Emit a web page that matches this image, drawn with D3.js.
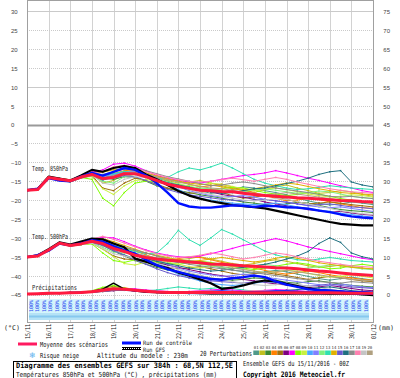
<!DOCTYPE html>
<html>
<head>
<meta charset="utf-8">
<script src="https://cdn.jsdelivr.net/npm/d3@7/dist/d3.min.js"></script>
<style>
  body { margin: 0; background: #fff; }
  svg { display: block; }
</style>
</head>
<body>
<svg id="chart" width="400" height="378"></svg>
<script>
// forecast hours (12h step) from 15/11/2016 00Z
const hours = [0,12,24,36,48,60,72,84,96,108,120,132,144,156,168,180,192,204,216,228,240,252,264,276,288,300,312,324,336,348,360,372,384];
const dayLabels = ['15/11','16/11','17/11','18/11','19/11','20/11','21/11','22/11','23/11','24/11','25/11','26/11','27/11','28/11','29/11','30/11','01/12'];
const tempTicks = [30,25,20,15,10,5,0,-5,-10,-15,-20,-25,-30,-35,-40,-45];
const precipTicks = [75,70,65,60,55,50,45,40,35,30,25,20,15,10,5,0];

// 850 hPa
const mean850 = [-17.4,-17.2,-14.0,-14.5,-14.9,-13.9,-13.2,-14.3,-14.0,-13.0,-13.0,-13.8,-14.8,-15.8,-16.4,-16.9,-17.4,-17.5,-17.7,-17.8,-18.2,-18.5,-18.8,-19.0,-19.2,-19.4,-19.5,-19.7,-19.9,-20.1,-20.2,-20.4,-20.5];
const ctrl850 = [-17.4,-17.0,-14.2,-14.8,-15.0,-13.8,-12.8,-13.5,-12.5,-11.5,-12.0,-13.5,-15.5,-18.0,-20.8,-21.7,-22.0,-22.0,-21.7,-21.4,-21.5,-21.8,-21.5,-21.6,-21.9,-22.0,-22.3,-22.8,-23.2,-23.8,-24.3,-24.6,-24.8];
const gfs850 = [-17.4,-17.0,-13.8,-14.3,-14.8,-13.5,-12.0,-12.5,-11.5,-11.0,-11.5,-13.2,-14.5,-16.0,-17.6,-18.8,-19.6,-20.3,-20.8,-21.3,-21.6,-21.9,-22.2,-22.8,-23.4,-24.0,-24.6,-25.2,-25.8,-26.3,-26.5,-26.7,-26.7];
const members850 = [
  [-17.3,-17.0,-14.2,-14.8,-15.2,-14.2,-13.5,-14.8,-13.5,-12.5,-12.8,-13.5,-14.2,-15.0,-16.0,-16.8,-17.5,-18.2,-18.0,-17.2,-16.5,-16.8,-17.5,-18.0,-18.6,-19.5,-20.2,-20.8,-21.3,-21.0,-20.5,-20.8,-21.2],
  [-17.5,-17.3,-13.8,-14.2,-14.6,-13.5,-12.8,-15.5,-14.8,-13.2,-12.5,-13.0,-14.0,-14.8,-15.5,-15.2,-14.8,-15.5,-16.2,-16.8,-17.5,-18.0,-17.2,-16.5,-16.0,-16.8,-17.5,-18.2,-18.0,-17.5,-17.8,-18.5,-19.0],
  [-17.4,-17.1,-14.3,-14.6,-15.0,-14.0,-13.0,-14.0,-14.5,-13.8,-14.0,-15.0,-16.2,-17.0,-17.5,-18.0,-18.6,-19.0,-19.5,-20.0,-20.5,-20.8,-21.2,-21.5,-21.0,-20.6,-20.8,-21.4,-22.0,-22.5,-22.8,-23.0,-23.3],
  [-17.3,-17.2,-14.1,-14.4,-14.7,-13.6,-12.9,-13.5,-13.0,-12.2,-12.0,-12.8,-13.8,-14.5,-15.0,-15.8,-16.5,-16.2,-15.8,-16.5,-17.2,-18.0,-18.8,-19.5,-20.2,-20.0,-19.5,-19.8,-20.5,-21.0,-21.5,-22.0,-22.2],
  [-17.5,-17.3,-14.0,-14.7,-15.1,-14.1,-13.4,-16.8,-17.5,-15.5,-14.2,-14.8,-15.8,-16.8,-17.5,-18.2,-18.0,-17.5,-18.0,-18.8,-19.5,-19.2,-18.8,-19.2,-19.8,-20.5,-21.0,-20.8,-20.5,-20.8,-21.2,-21.5,-21.8],
  [-17.4,-17.2,-14.0,-14.5,-14.8,-13.8,-13.0,-14.5,-13.8,-12.8,-13.2,-14.0,-15.0,-15.8,-16.2,-16.8,-17.2,-17.8,-18.5,-19.0,-19.2,-19.8,-20.5,-21.0,-21.5,-22.0,-22.5,-22.8,-23.2,-23.0,-23.4,-23.8,-24.0],
  [-17.4,-17.1,-13.9,-14.3,-14.8,-13.7,-12.6,-12.0,-10.5,-10.2,-11.0,-12.2,-13.5,-14.2,-14.8,-15.2,-15.5,-15.0,-14.5,-14.0,-13.5,-13.2,-12.8,-12.2,-12.8,-13.5,-14.2,-14.8,-15.5,-16.2,-16.8,-17.5,-18.0],
  [-17.4,-17.2,-14.2,-14.6,-15.0,-14.0,-14.5,-19.5,-21.5,-18.0,-15.5,-15.0,-15.2,-15.8,-16.2,-16.5,-17.0,-17.2,-17.0,-16.6,-16.8,-17.4,-18.0,-18.4,-18.8,-18.5,-18.0,-18.4,-19.0,-19.6,-20.0,-20.5,-20.8],
  [-17.5,-17.2,-14.1,-14.5,-14.9,-13.9,-13.8,-17.0,-18.5,-16.2,-14.8,-14.5,-15.0,-15.5,-15.8,-16.2,-16.0,-15.5,-15.8,-16.4,-17.0,-17.5,-17.2,-16.8,-17.2,-17.8,-18.4,-18.8,-19.2,-19.0,-18.6,-18.8,-19.2],
  [-17.3,-17.0,-14.0,-14.4,-14.8,-13.8,-13.2,-13.8,-13.2,-12.5,-12.6,-13.4,-14.6,-16.0,-17.2,-18.5,-19.5,-20.0,-20.4,-20.8,-21.0,-21.2,-21.0,-20.8,-21.2,-21.8,-22.2,-22.6,-23.0,-23.5,-23.8,-24.2,-24.5],
  [-17.4,-17.2,-14.1,-14.5,-14.9,-13.9,-13.3,-14.0,-13.4,-12.6,-12.4,-13.0,-14.2,-15.5,-16.5,-17.5,-18.2,-18.8,-19.2,-19.0,-18.8,-19.2,-19.8,-20.2,-20.5,-21.0,-21.5,-21.8,-22.0,-21.8,-22.2,-22.6,-23.0],
  [-17.5,-17.3,-14.2,-14.7,-15.1,-14.1,-13.6,-15.0,-15.5,-13.8,-13.2,-13.6,-14.4,-15.2,-15.8,-16.4,-16.8,-17.0,-17.5,-18.0,-17.8,-17.2,-17.0,-17.4,-17.8,-18.2,-18.0,-17.6,-17.8,-18.4,-19.0,-19.4,-19.6],
  [-17.4,-17.1,-14.0,-14.4,-14.8,-13.8,-13.1,-13.6,-13.0,-12.4,-12.8,-13.8,-14.6,-14.0,-12.5,-11.5,-12.0,-11.2,-10.2,-11.5,-13.0,-14.5,-15.5,-16.2,-16.8,-17.2,-17.0,-16.6,-16.2,-16.5,-16.8,-17.0,-17.2],
  [-17.4,-17.2,-14.0,-14.5,-14.9,-13.9,-13.0,-12.6,-12.0,-11.8,-12.0,-12.8,-13.6,-14.4,-15.0,-15.5,-15.8,-16.0,-16.5,-17.0,-17.4,-17.0,-16.5,-16.0,-15.5,-15.8,-16.4,-17.0,-17.5,-18.0,-18.2,-18.4,-18.6],
  [-17.4,-17.1,-14.1,-14.6,-15.0,-14.0,-13.4,-14.6,-14.2,-13.5,-13.8,-14.8,-16.0,-17.2,-18.0,-18.6,-19.0,-19.4,-19.8,-20.0,-20.2,-20.0,-19.8,-20.2,-20.6,-21.0,-21.4,-21.2,-21.0,-21.4,-21.8,-22.0,-22.3],
  [-17.4,-17.2,-14.0,-14.6,-15.0,-14.0,-13.2,-14.2,-13.6,-12.8,-13.0,-13.6,-14.6,-15.4,-16.0,-16.6,-17.2,-17.8,-18.2,-18.0,-17.5,-17.0,-16.8,-16.2,-15.6,-15.0,-14.2,-13.2,-12.5,-12.2,-15.2,-16.0,-16.5],
  [-17.4,-17.2,-14.0,-14.5,-14.9,-13.9,-13.0,-13.2,-12.5,-11.8,-11.6,-12.2,-13.0,-13.8,-14.4,-15.0,-15.6,-16.2,-16.0,-15.5,-15.2,-15.6,-16.2,-16.8,-17.2,-17.6,-18.0,-18.5,-19.0,-19.2,-19.0,-19.3,-19.6],
  [-17.4,-17.1,-13.9,-14.4,-14.8,-13.8,-12.7,-12.5,-11.2,-10.8,-11.5,-12.5,-13.2,-14.0,-14.6,-15.0,-15.2,-15.0,-14.6,-14.2,-14.6,-15.0,-14.5,-14.0,-14.5,-15.2,-15.8,-16.4,-17.0,-17.4,-17.8,-18.0,-18.2],
  [-17.4,-17.2,-14.0,-14.5,-15.0,-14.0,-13.4,-15.5,-16.0,-14.5,-13.8,-14.0,-14.8,-15.6,-16.4,-17.2,-18.0,-18.5,-19.0,-19.5,-20.0,-20.2,-20.0,-19.6,-19.8,-20.4,-21.0,-21.6,-22.2,-22.8,-23.2,-23.6,-23.8],
  [-17.5,-17.3,-14.1,-14.6,-15.0,-14.0,-13.3,-14.2,-13.5,-12.8,-12.5,-13.0,-13.8,-14.6,-15.2,-15.8,-16.4,-16.8,-17.0,-17.4,-17.8,-18.2,-18.6,-18.4,-18.0,-18.4,-18.8,-19.2,-19.6,-20.0,-20.4,-20.6,-20.8]
];

// 500 hPa
const mean500 = [-35.1,-34.8,-33.2,-31.4,-32.0,-31.6,-30.9,-31.5,-32.8,-33.6,-34.6,-35.2,-35.6,-35.9,-36.1,-36.4,-36.6,-36.9,-37.0,-37.2,-37.4,-37.5,-37.7,-37.9,-38.0,-38.2,-38.5,-38.8,-39.0,-39.3,-39.6,-39.8,-40.0];
const ctrl500 = [-35.1,-34.6,-33.4,-31.5,-32.0,-31.5,-30.6,-31.0,-32.2,-33.3,-34.2,-35.8,-37.2,-38.3,-39.0,-39.8,-40.4,-40.9,-41.1,-40.7,-40.4,-40.0,-40.4,-41.5,-42.4,-43.0,-43.6,-43.8,-43.9,-44.2,-44.6,-44.8,-44.8];
const gfs500 = [-35.1,-34.6,-33.0,-31.2,-31.8,-31.0,-30.2,-30.4,-31.5,-32.5,-35.5,-36.3,-37.3,-38.0,-39.2,-40.0,-41.0,-42.0,-43.5,-43.2,-42.6,-41.8,-41.3,-41.5,-42.2,-42.8,-43.4,-43.8,-44.1,-44.4,-44.7,-45.0,-45.2];
const members500 = [
  [-35.0,-34.7,-33.3,-31.6,-32.1,-31.7,-31.0,-31.8,-33.2,-34.5,-35.5,-36.2,-36.8,-37.0,-36.5,-36.0,-36.5,-37.2,-38.0,-38.5,-39.0,-39.4,-39.0,-38.6,-39.0,-39.6,-40.2,-40.8,-41.2,-40.8,-40.4,-40.8,-41.2],
  [-35.2,-34.9,-33.0,-31.2,-31.8,-31.4,-30.5,-30.8,-31.8,-32.8,-33.6,-34.0,-34.6,-35.2,-35.8,-35.5,-35.0,-35.6,-36.2,-36.8,-37.2,-36.8,-36.2,-35.8,-36.2,-36.8,-37.4,-37.8,-37.6,-37.2,-37.6,-38.0,-38.4],
  [-35.1,-34.8,-33.4,-31.5,-32.2,-31.8,-31.2,-32.0,-33.5,-34.8,-36.0,-37.0,-37.8,-38.5,-39.0,-39.5,-40.0,-40.6,-41.0,-41.2,-41.0,-40.6,-40.8,-41.2,-41.8,-42.0,-41.6,-41.4,-41.8,-42.2,-42.6,-42.8,-43.0],
  [-35.0,-34.8,-33.2,-31.3,-31.9,-31.5,-30.6,-30.5,-31.5,-32.5,-33.5,-34.5,-35.5,-36.0,-35.5,-35.0,-35.2,-35.8,-36.5,-37.0,-37.5,-38.0,-38.6,-39.2,-39.6,-39.2,-38.8,-39.2,-39.8,-40.2,-40.6,-41.0,-41.2],
  [-35.2,-34.8,-33.3,-31.5,-32.1,-31.8,-31.4,-33.0,-34.8,-35.6,-35.8,-36.4,-37.2,-37.8,-38.2,-38.0,-37.6,-38.2,-38.8,-39.4,-39.8,-39.5,-39.2,-39.6,-40.0,-40.5,-41.0,-40.6,-40.2,-40.6,-41.0,-41.4,-41.6],
  [-35.1,-34.8,-33.2,-31.4,-32.0,-31.6,-30.8,-31.2,-32.2,-33.2,-34.4,-35.4,-36.4,-37.2,-37.8,-38.4,-39.0,-39.6,-40.0,-40.5,-41.0,-41.4,-41.8,-42.2,-42.5,-42.8,-43.2,-43.0,-42.6,-43.0,-43.4,-43.8,-44.0],
  [-35.1,-34.7,-33.1,-31.3,-31.9,-31.5,-30.4,-29.8,-30.0,-31.0,-32.2,-33.2,-34.0,-34.6,-35.0,-35.2,-34.8,-34.2,-33.5,-32.8,-32.0,-31.5,-30.8,-30.2,-30.8,-31.6,-32.4,-33.0,-33.6,-34.2,-34.8,-35.4,-35.8],
  [-35.1,-34.8,-33.3,-31.5,-32.1,-31.8,-31.6,-34.0,-36.0,-36.5,-35.8,-36.0,-36.4,-36.8,-37.0,-36.6,-36.2,-36.5,-37.0,-37.6,-38.0,-38.4,-38.0,-37.5,-37.0,-36.6,-37.0,-37.6,-38.2,-38.0,-37.4,-37.0,-37.4],
  [-35.2,-34.9,-33.2,-31.6,-32.2,-31.8,-31.4,-33.0,-35.0,-36.8,-37.2,-36.4,-36.0,-36.4,-37.0,-37.6,-38.0,-37.6,-37.2,-37.6,-38.2,-38.8,-39.2,-39.0,-38.6,-38.8,-39.4,-40.0,-40.4,-40.2,-39.8,-40.2,-40.6],
  [-35.0,-34.7,-33.2,-31.4,-32.0,-31.6,-31.0,-31.6,-32.6,-33.4,-34.4,-35.6,-37.0,-38.4,-39.6,-40.6,-41.4,-42.0,-42.4,-42.6,-42.4,-42.0,-41.6,-41.8,-42.2,-42.8,-43.4,-43.8,-44.2,-44.4,-44.6,-44.8,-45.0],
  [-35.1,-34.8,-33.1,-31.4,-32.0,-31.6,-31.0,-31.4,-32.4,-33.2,-34.0,-34.8,-35.8,-37.0,-38.0,-38.8,-39.4,-39.8,-40.2,-40.0,-39.6,-39.8,-40.4,-40.8,-41.2,-41.6,-42.0,-42.4,-42.6,-42.2,-42.6,-43.0,-43.2],
  [-35.2,-34.9,-33.3,-31.5,-32.1,-31.8,-31.3,-32.5,-33.8,-34.0,-34.2,-34.8,-35.4,-35.8,-36.2,-36.6,-37.0,-37.4,-37.8,-38.2,-38.0,-37.4,-37.0,-37.4,-37.8,-38.2,-38.0,-37.6,-37.2,-37.4,-37.8,-38.2,-38.4],
  [-35.1,-34.7,-33.2,-31.4,-32.0,-31.6,-30.8,-31.2,-32.0,-32.8,-33.6,-34.2,-34.0,-31.5,-28.0,-30.5,-32.0,-30.0,-27.8,-29.0,-30.5,-32.0,-33.5,-34.5,-35.2,-35.8,-36.0,-35.6,-35.2,-35.6,-36.0,-36.2,-36.4],
  [-35.1,-34.8,-33.2,-31.3,-31.9,-31.5,-30.6,-30.2,-31.0,-32.0,-33.0,-34.0,-34.8,-35.4,-35.8,-36.2,-36.0,-35.6,-35.2,-35.6,-36.0,-36.4,-36.0,-35.4,-35.0,-35.4,-36.0,-36.6,-37.0,-37.4,-37.8,-38.0,-38.2],
  [-35.1,-34.8,-33.3,-31.5,-32.1,-31.7,-31.2,-32.0,-33.4,-34.6,-35.8,-37.0,-38.2,-39.2,-40.0,-40.6,-41.0,-41.4,-41.6,-41.8,-42.0,-41.6,-41.2,-41.6,-42.0,-42.4,-42.8,-42.6,-42.2,-42.6,-43.0,-43.2,-43.4],
  [-35.1,-34.8,-33.2,-31.4,-32.0,-31.6,-30.9,-31.6,-32.8,-33.6,-34.6,-35.4,-36.2,-36.8,-37.4,-38.0,-38.4,-38.8,-38.6,-38.2,-37.8,-37.4,-37.0,-36.4,-35.6,-34.8,-33.6,-31.5,-30.0,-31.2,-34.0,-35.0,-35.6],
  [-35.1,-34.8,-33.1,-31.3,-31.9,-31.5,-30.7,-30.8,-31.6,-32.4,-33.2,-34.0,-34.8,-35.6,-36.4,-37.0,-37.4,-37.8,-38.2,-38.6,-38.8,-39.2,-39.6,-40.0,-40.4,-40.8,-41.2,-41.6,-41.8,-42.0,-41.6,-41.8,-42.0],
  [-35.1,-34.7,-33.1,-31.2,-31.8,-31.4,-30.3,-29.6,-30.4,-31.4,-32.4,-33.4,-34.2,-34.8,-35.2,-35.0,-34.6,-34.0,-34.4,-35.0,-35.6,-35.2,-34.6,-34.0,-34.4,-35.0,-35.6,-36.2,-36.6,-37.0,-37.4,-37.6,-37.8],
  [-35.1,-34.8,-33.3,-31.6,-32.2,-31.8,-31.4,-32.8,-34.2,-34.8,-35.4,-36.0,-36.8,-37.6,-38.4,-39.2,-40.0,-40.6,-41.2,-41.6,-42.0,-42.4,-42.6,-42.4,-42.0,-42.4,-42.8,-43.2,-43.6,-44.0,-44.2,-44.4,-44.6],
  [-35.2,-34.9,-33.2,-31.4,-32.0,-31.6,-31.0,-31.5,-32.5,-33.4,-34.2,-34.8,-35.2,-35.6,-36.0,-36.4,-36.8,-37.2,-37.6,-38.0,-38.4,-38.8,-39.2,-39.0,-38.6,-39.0,-39.4,-39.8,-40.2,-40.6,-41.0,-41.2,-41.4]
];

// precipitation (mm, right axis)
const meanPrecip = [0.15,0.2,0.3,0.35,0.45,0.5,0.7,1.1,1.5,1.4,1.1,0.85,0.65,0.55,0.5,0.5,0.5,0.5,0.5,0.5,0.45,0.45,0.45,0.45,0.45,0.45,0.45,0.45,0.45,0.4,0.35,0.35,0.3];
const ctrlPrecip = [0.1,0.2,0.3,0.4,0.5,0.5,0.7,1.1,1.4,1.3,1.0,0.8,0.6,0.5,0.5,0.6,0.7,0.8,0.9,0.8,0.7,0.7,0.8,0.9,0.9,0.8,0.7,0.7,0.8,0.9,0.8,0.7,0.6];
const gfsPrecip = [0.1,0.2,0.3,0.3,0.5,0.6,0.8,1.4,3.0,1.4,0.9,0.6,0.5,0.4,0.4,0.3,0.3,0.2,0.2,0.2,0.2,0.2,0.1,0.1,0.1,0.2,0.2,0.2,0.1,0.1,0.1,0.1,0.1];
const membersPrecip = [
  [0.1,0.2,0.3,0.3,0.4,0.5,0.6,0.9,1.3,1.5,1.1,0.8,0.5,0.4,0.3,0.3,0.4,0.5,0.4,0.3,0.3,0.2,0.3,0.4,0.3,0.2,0.2,0.3,0.4,0.3,0.2,0.2,0.2],
  [0.2,0.2,0.3,0.4,0.5,0.5,0.8,1.2,1.8,1.4,1.0,0.7,0.6,0.5,0.4,0.3,0.3,0.4,0.6,0.8,0.6,0.4,0.3,0.3,0.4,0.5,0.4,0.3,0.3,0.4,0.5,0.4,0.3],
  [0.1,0.2,0.2,0.3,0.4,0.4,0.6,0.8,1.1,1.3,1.2,0.9,0.7,0.5,0.4,0.3,0.2,0.2,0.3,0.3,0.2,0.2,0.2,0.3,0.3,0.2,0.2,0.2,0.3,0.3,0.2,0.2,0.2],
  [0.2,0.2,0.3,0.3,0.5,0.6,0.7,1.0,1.5,1.8,1.3,0.9,0.6,0.4,0.4,0.5,0.7,0.9,0.7,0.5,0.4,0.3,0.3,0.4,0.5,0.6,0.5,0.4,0.3,0.3,0.4,0.5,0.4],
  [0.1,0.1,0.2,0.3,0.4,0.5,0.9,1.6,2.2,1.6,1.0,0.7,0.5,0.4,0.3,0.3,0.3,0.2,0.2,0.3,0.3,0.2,0.2,0.2,0.2,0.3,0.3,0.2,0.2,0.2,0.3,0.3,0.2],
  [0.2,0.2,0.3,0.4,0.4,0.5,0.6,0.8,1.0,1.2,1.1,1.0,0.8,0.6,0.5,0.4,0.3,0.3,0.3,0.2,0.2,0.2,0.2,0.2,0.2,0.2,0.1,0.1,0.2,0.2,0.1,0.1,0.1],
  [0.1,0.2,0.3,0.4,0.5,0.6,0.8,1.1,1.4,1.6,1.5,1.2,1.0,0.8,0.7,0.8,1.0,1.2,1.4,1.2,1.0,0.9,1.1,1.3,1.2,1.0,0.8,0.7,0.6,0.6,0.5,0.5,0.4],
  [0.2,0.2,0.3,0.3,0.4,0.6,1.0,1.9,2.4,1.7,1.2,0.9,0.7,0.6,0.5,0.6,0.7,0.6,0.5,0.5,0.6,0.7,0.6,0.5,0.4,0.4,0.5,0.6,0.5,0.4,0.4,0.5,0.5],
  [0.1,0.2,0.2,0.3,0.4,0.5,0.8,1.3,1.9,1.5,1.0,0.8,0.6,0.5,0.5,0.4,0.4,0.5,0.5,0.4,0.4,0.5,0.6,0.5,0.4,0.4,0.3,0.3,0.4,0.4,0.3,0.3,0.3],
  [0.2,0.2,0.3,0.4,0.5,0.5,0.6,0.9,1.2,1.1,0.9,0.7,0.5,0.4,0.3,0.2,0.2,0.2,0.2,0.1,0.1,0.1,0.2,0.2,0.1,0.1,0.1,0.1,0.1,0.1,0.1,0.1,0.1],
  [0.1,0.2,0.3,0.3,0.4,0.5,0.7,1.0,1.3,1.2,1.0,0.8,0.6,0.4,0.3,0.3,0.3,0.2,0.2,0.3,0.3,0.3,0.2,0.2,0.2,0.2,0.2,0.2,0.1,0.2,0.2,0.2,0.2],
  [0.2,0.2,0.3,0.4,0.4,0.5,0.7,1.2,1.7,1.5,1.1,0.8,0.6,0.5,0.5,0.6,0.5,0.4,0.4,0.5,0.6,0.5,0.4,0.4,0.5,0.6,0.6,0.5,0.4,0.4,0.5,0.5,0.4],
  [0.1,0.2,0.3,0.3,0.4,0.5,0.7,1.0,1.3,1.4,1.2,1.0,1.2,1.6,2.0,1.7,1.4,1.6,1.9,1.6,1.2,0.9,0.7,0.6,0.5,0.4,0.4,0.5,0.5,0.4,0.4,0.4,0.3],
  [0.2,0.2,0.3,0.4,0.5,0.6,0.8,1.0,1.2,1.3,1.1,0.9,0.7,0.6,0.5,0.5,0.6,0.6,0.7,0.8,0.7,0.6,0.6,0.7,0.8,0.7,0.6,0.5,0.5,0.4,0.4,0.4,0.4],
  [0.1,0.2,0.3,0.3,0.4,0.5,0.6,0.9,1.1,1.2,1.0,0.8,0.6,0.4,0.3,0.3,0.2,0.2,0.2,0.2,0.2,0.2,0.2,0.1,0.1,0.2,0.2,0.2,0.2,0.1,0.1,0.1,0.1],
  [0.2,0.2,0.3,0.4,0.4,0.5,0.7,1.0,1.4,1.3,1.0,0.8,0.6,0.5,0.4,0.4,0.4,0.4,0.5,0.5,0.6,0.7,0.8,0.9,1.1,1.3,1.5,1.8,2.0,1.6,1.0,0.8,0.6],
  [0.1,0.2,0.3,0.3,0.5,0.6,0.7,0.9,1.1,1.2,1.0,0.8,0.6,0.5,0.4,0.4,0.5,0.6,0.5,0.4,0.4,0.4,0.3,0.3,0.3,0.3,0.3,0.3,0.3,0.3,0.3,0.2,0.2],
  [0.2,0.2,0.3,0.4,0.5,0.6,0.9,1.3,1.6,1.4,1.2,1.0,0.8,0.7,0.7,0.8,0.9,1.0,0.9,0.8,0.9,1.0,1.1,1.0,0.9,0.8,0.7,0.7,0.6,0.6,0.5,0.5,0.5],
  [0.1,0.2,0.2,0.3,0.4,0.5,0.7,1.1,1.5,1.3,1.0,0.7,0.5,0.4,0.3,0.3,0.2,0.2,0.2,0.2,0.2,0.2,0.2,0.2,0.2,0.2,0.2,0.2,0.2,0.1,0.1,0.1,0.1],
  [0.2,0.2,0.3,0.3,0.4,0.5,0.7,1.0,1.3,1.2,1.0,0.8,0.6,0.5,0.4,0.4,0.4,0.3,0.3,0.3,0.4,0.4,0.3,0.3,0.3,0.3,0.4,0.4,0.3,0.3,0.3,0.3,0.3]
];

const memberNames = ['01','02','03','04','05','06','07','08','09','10','11','12','13','14','15','16','17','18','19','20'];
const memberColors = ['#4f9a8a','#c0c020','#3a8a32','#ff8000','#a07010','#800080','#ff00ff','#80ff00','#c8f040','#4aa8ff',
                      '#8080ff','#80f080','#30e0b0','#e0b000','#6a5acd','#1f7080','#8c8c8c','#ff80b0','#c4c4c4','#b0a080'];

// snow-risk strip (percent)
const snowRisk = [100,100,100,100,100,100,100,100,100,100,100,100,100,100,100,100,100,100,100,100,100,100,100,100,100,100,
                  100,100,100,100,100,100,100,100,100,100,100,100,100,100,100,100,100,100,100,100,100,100,100,100,100,100];

const svg = d3.select('#chart');
const plotLeft = 27, plotRight = 373, plotTop = 0, plotBottom = 322;

const x = d3.scaleLinear().domain([0, 384]).range([plotLeft, plotRight]);
const y = d3.scaleLinear().domain([-45, 30]).range([294.5, 11.3]);
const yPrecip = d3.scaleLinear().domain([0, 75]).range([294.5, 11.3]);
const dayHours = dayLabels.map((d, i) => i * 24);

function label(parent, str, px, py, opts = {}) {
  const t = parent.append('text')
    .attr('x', px)
    .attr('y', py)
    .attr('font-family', opts.family || 'DejaVu Sans Mono')
    .attr('font-size', opts.size || 7)
    .attr('fill', opts.fill || '#111')
    .text(str);
  if (opts.bold) t.attr('font-weight', 'bold');
  if (opts.anchor) t.attr('text-anchor', opts.anchor);
  if (opts.len) t.attr('textLength', opts.len).attr('lengthAdjust', 'spacingAndGlyphs');
  return t;
}

svg.append('rect').attr('width', 400).attr('height', 378).attr('fill', '#fff');

// grid
const grid = svg.append('g');
grid.selectAll('line.v')
  .data(dayHours)
  .join('line')
  .attr('class', 'v')
  .attr('x1', d => Math.round(x(d)) + 0.5)
  .attr('x2', d => Math.round(x(d)) + 0.5)
  .attr('y1', plotTop)
  .attr('y2', plotBottom)
  .attr('stroke', '#d2d2d2')
  .attr('stroke-width', 1);

grid.selectAll('line.h')
  .data(tempTicks)
  .join('line')
  .attr('class', 'h')
  .attr('x1', plotLeft)
  .attr('x2', plotRight)
  .attr('y1', d => Math.round(y(d)) + 0.5)
  .attr('y2', d => Math.round(y(d)) + 0.5)
  .attr('stroke', d => d === 0 ? '#9a9a9a' : '#cacaca')
  .attr('stroke-width', d => d === 0 ? 2 : 1)
  .attr('stroke-dasharray', d => (d === 0 || d === 30 || d === 10) ? null : '1,1');

svg.append('rect')
  .attr('x', plotLeft + 0.5)
  .attr('y', plotTop + 0.5)
  .attr('width', plotRight - plotLeft)
  .attr('height', plotBottom - plotTop)
  .attr('fill', 'none')
  .attr('stroke', '#a0a0a0');

// snow-risk strip
const snowX = d3.scalePoint().domain(d3.range(snowRisk.length)).range([31, 366]);
svg.append('rect').attr('x', 29).attr('y', 299).attr('width', 340).attr('height', 14).attr('fill', '#d4f4fc');
svg.append('rect').attr('x', 29).attr('y', 313).attr('width', 340).attr('height', 7).attr('fill', '#b4e2f6');
svg.append('rect').attr('x', 29).attr('y', 315.5).attr('width', 340).attr('height', 2).attr('fill', '#86c8ee');
const snowG = svg.append('g');
snowRisk.forEach((v, i) => {
  const sx = snowX(i);
  snowG.append('text')
    .attr('x', sx)
    .attr('y', 312)
    .attr('transform', `rotate(-90, ${sx}, 312)`)
    .attr('font-family', 'DejaVu Sans Mono')
    .attr('font-size', 5)
    .attr('dy', '0.35em')
    .attr('fill', '#2a48f0')
    .attr('textLength', 12)
    .attr('lengthAdjust', 'spacingAndGlyphs')
    .text(v + '%');
});

// series
const clip = svg.append('clipPath').attr('id', 'plot-clip')
  .append('rect').attr('x', plotLeft).attr('y', plotTop)
  .attr('width', plotRight - plotLeft).attr('height', plotBottom - plotTop - 24);

const series = svg.append('g').attr('clip-path', 'url(#plot-clip)');
const lineT = d3.line().x((d, i) => x(hours[i])).y(d => y(d));
const lineP = d3.line().x((d, i) => x(hours[i])).y(d => yPrecip(d));

function drawMembers(list, gen, scale) {
  list.forEach((vals, m) => {
    series.append('path')
      .attr('d', gen(vals))
      .attr('fill', 'none')
      .attr('stroke', memberColors[m])
      .attr('stroke-width', 1);
    series.append('g').selectAll('rect')
      .data(vals)
      .join('rect')
      .attr('x', (d, i) => x(hours[i]) - 0.75)
      .attr('y', d => scale(d) - 0.75)
      .attr('width', 1.5)
      .attr('height', 1.5)
      .attr('fill', memberColors[m]);
  });
}

drawMembers(members850, lineT, y);
drawMembers(members500, lineT, y);
drawMembers(membersPrecip, lineP, yPrecip);

const mainRuns = [
  { vals: gfs850, gen: lineT, color: '#000', w: 2.2 },
  { vals: gfs500, gen: lineT, color: '#000', w: 2.2 },
  { vals: gfsPrecip, gen: lineP, color: '#000', w: 1.5 },
  { vals: ctrl850, gen: lineT, color: '#0010ff', w: 2.4 },
  { vals: ctrl500, gen: lineT, color: '#0010ff', w: 2.4 },
  { vals: ctrlPrecip, gen: lineP, color: '#0010ff', w: 1.5 },
  { vals: mean850, gen: lineT, color: '#ff1a40', w: 3 },
  { vals: mean500, gen: lineT, color: '#ff1a40', w: 3 },
  { vals: meanPrecip, gen: lineP, color: '#ff1a40', w: 3 }
];
mainRuns.forEach(r => {
  series.append('path')
    .attr('d', r.gen(r.vals))
    .attr('fill', 'none')
    .attr('stroke', r.color)
    .attr('stroke-width', r.w)
    .attr('stroke-linejoin', 'round');
});

// in-plot labels
label(svg, 'Temp. 850hPa', 32, 170.5, { size: 7, len: 36, fill: '#222' });
label(svg, 'Temp. 500hPa', 32, 239, { size: 7, len: 36, fill: '#222' });
label(svg, 'Précipitations', 32, 290, { size: 7, len: 45, fill: '#222' });

// axes
const yAxisLeft = d3.axisLeft(y).tickValues(tempTicks).tickSize(0);
const gl = svg.append('g').attr('transform', `translate(${plotLeft},0)`).call(yAxisLeft);
gl.select('.domain').remove();
gl.selectAll('text')
  .attr('x', 11 - plotLeft)
  .attr('dy', '0.4em')
  .attr('text-anchor', 'start')
  .attr('font-family', 'Liberation Sans')
  .attr('font-size', 6)
  .attr('fill', '#444');

const yAxisRight = d3.axisRight(yPrecip).tickValues(precipTicks).tickSize(0);
const gr = svg.append('g').attr('transform', `translate(${plotRight},0)`).call(yAxisRight);
gr.select('.domain').remove();
gr.selectAll('text')
  .attr('x', 390 - plotRight)
  .attr('dy', '0.4em')
  .attr('text-anchor', 'end')
  .attr('font-family', 'Liberation Sans')
  .attr('font-size', 6)
  .attr('fill', '#444');

const xAxis = d3.axisBottom(x).tickValues(dayHours).tickSize(0).tickFormat((d, i) => dayLabels[i]);
const gx = svg.append('g').attr('transform', `translate(0,${plotBottom})`).call(xAxis);
gx.select('.domain').remove();
gx.selectAll('text')
  .attr('transform', 'rotate(-90)')
  .attr('text-anchor', 'end')
  .attr('x', -2)
  .attr('y', 0)
  .attr('dy', '0.35em')
  .attr('font-family', 'DejaVu Sans Mono')
  .attr('font-size', 6.5)
  .attr('fill', '#222')
  .attr('textLength', 15)
  .attr('lengthAdjust', 'spacingAndGlyphs');

label(svg, '(°C)', 4, 330, { size: 6.5, len: 16, fill: '#222' });
label(svg, '(mm)', 378, 330, { size: 6.5, len: 16, fill: '#222' });

// legend
const legend = svg.append('g');
legend.append('line').attr('x1', 18).attr('x2', 37).attr('y1', 344).attr('y2', 344)
  .attr('stroke', '#ff1a60').attr('stroke-width', 3);
label(legend, 'Moyenne des scénarios', 40, 346.5, { size: 7, len: 68 });

legend.append('line').attr('x1', 122).attr('x2', 141).attr('y1', 343).attr('y2', 343)
  .attr('stroke', '#0010ff').attr('stroke-width', 3);
label(legend, 'Run de contrôle', 143, 344.5, { size: 6, len: 49 });
legend.append('line').attr('x1', 122).attr('x2', 141).attr('y1', 348.5).attr('y2', 348.5)
  .attr('stroke', '#000').attr('stroke-width', 3);
legend.append('line').attr('x1', 122).attr('x2', 141).attr('y1', 348.5).attr('y2', 348.5)
  .attr('stroke', '#fff').attr('stroke-width', 1).attr('stroke-dasharray', '1,1');
label(legend, 'Run GFS', 143, 351.5, { size: 6, len: 22 });

label(legend, '❄', 29, 358, { family: 'DejaVu Sans', size: 8, fill: '#5ab0ee' });
label(legend, 'Risque neige', 40, 358, { size: 7, len: 39 });
label(legend, 'Altitude du modele : 230m', 97, 358, { size: 7, len: 91 });
label(legend, '20 Perturbations', 200, 356, { size: 7, len: 52 });

const boxX = d3.scaleBand().domain(memberNames).range([253, 373]).padding(0.05);
legend.selectAll('rect.sw')
  .data(memberNames)
  .join('rect')
  .attr('class', 'sw')
  .attr('x', d => boxX(d))
  .attr('y', 350.5)
  .attr('width', boxX.bandwidth())
  .attr('height', 4.5)
  .attr('fill', (d, i) => memberColors[i]);
legend.selectAll('text.sw')
  .data(memberNames)
  .join('text')
  .attr('class', 'sw')
  .attr('x', d => boxX(d) + boxX.bandwidth() / 2)
  .attr('y', 349)
  .attr('text-anchor', 'middle')
  .attr('font-family', 'DejaVu Sans Mono')
  .attr('font-size', 4)
  .attr('fill', '#333')
  .attr('textLength', 4.8)
  .attr('lengthAdjust', 'spacingAndGlyphs')
  .text(d => d);

// title box
svg.append('rect').attr('x', 13.5).attr('y', 361.5).attr('width', 223).attr('height', 20)
  .attr('fill', '#fff').attr('stroke', '#000').attr('stroke-width', 1);
label(svg, 'Diagramme des ensembles GEFS sur 384h : 68,5N 112,5E', 16, 368, { size: 7.5, len: 217, bold: true, fill: '#000' });
label(svg, 'Températures 850hPa et 500hPa (°C) , précipitations (mm)', 16, 376.5, { size: 7, len: 201, fill: '#111' });
label(svg, 'Ensemble GEFS du 15/11/2016 - 00Z', 243, 366, { size: 7, len: 106, fill: '#111' });
label(svg, 'Copyright 2016 Meteociel.fr', 243, 376.5, { size: 7.5, len: 102, bold: true, fill: '#000' });
</script>
</body>
</html>
